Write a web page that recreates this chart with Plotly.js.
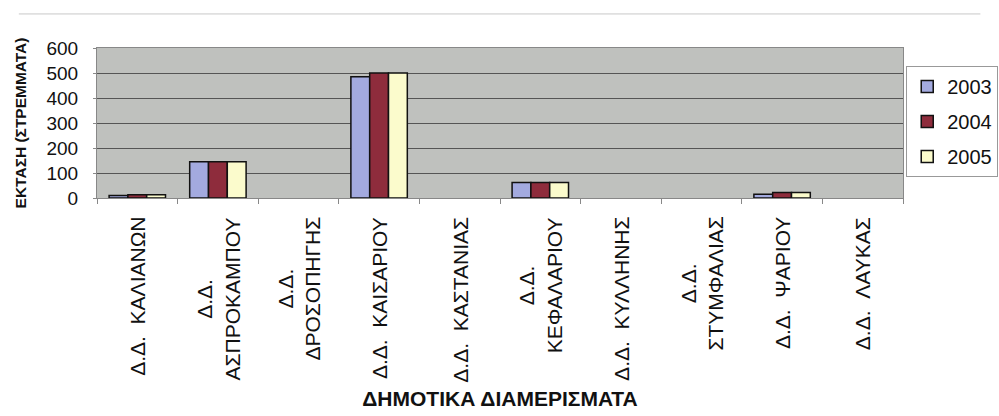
<!DOCTYPE html>
<html>
<head>
<meta charset="utf-8">
<script src="https://cdn.plot.ly/plotly-3.0.1.min.js"></script>
<style>html,body{margin:0;padding:0;background:#fff;}#chart{width:999px;height:416px;}</style>
</head>
<body>
<div id="chart"></div>
<script>
const categories = ["ΚΑΛΙΑΝΩΝ", "ΑΣΠΡΟΚΑΜΠΟΥ", "ΔΡΟΣΟΠΗΓΗΣ", "ΚΑΙΣΑΡΙΟΥ", "ΚΑΣΤΑΝΙΑΣ", "ΚΕΦΑΛΑΡΙΟΥ", "ΚΥΛΛΗΝΗΣ", "ΣΤΥΜΦΑΛΙΑΣ", "ΨΑΡΙΟΥ", "ΛΑΥΚΑΣ"];
const tickLabels = ["Δ.Δ.\u00a0\u00a0ΚΑΛΙΑΝΩΝ", "Δ.Δ.<br>ΑΣΠΡΟΚΑΜΠΟΥ", "Δ.Δ.<br>ΔΡΟΣΟΠΗΓΗΣ", "Δ.Δ.\u00a0\u00a0ΚΑΙΣΑΡΙΟΥ", "Δ.Δ.\u00a0\u00a0ΚΑΣΤΑΝΙΑΣ", "Δ.Δ.<br>ΚΕΦΑΛΑΡΙΟΥ", "Δ.Δ.\u00a0\u00a0ΚΥΛΛΗΝΗΣ", "Δ.Δ.<br>ΣΤΥΜΦΑΛΙΑΣ", "Δ.Δ.\u00a0\u00a0ΨΑΡΙΟΥ", "Δ.Δ.\u00a0\u00a0ΛΑΥΚΑΣ"];
const years = ["2003", "2004", "2005"];
const v2003 = [10, 145, 0, 485, 0, 62, 0, 0, 15, 0];
const v2004 = [13, 145, 0, 500, 0, 62, 0, 0, 22, 0];
const v2005 = [13, 145, 0, 500, 0, 62, 0, 0, 22, 0];
const colors = ["#a3aadf", "#8e2c3c", "#fbfbcc"];

const series = [v2003, v2004, v2005];
const font = "Liberation Sans, Arial, sans-serif";
const traces = series.map((vals, i) => ({
  type: "bar",
  name: years[i],
  legendgroup: years[i],
  x: categories,
  y: vals,
  marker: {color: colors[i], line: {color: "#111", width: vals.map(v => v > 0 ? 1.5 : 0)}},
  hoverinfo: "y"
}));

const labelAnnotations = categories.map((c, i) => ({
  x: c, xref: "x", y: 0, yref: "paper",
  yanchor: "top", xanchor: "center", yshift: -17,
  text: tickLabels[i], textangle: -90, align: "center",
  showarrow: false,
  font: {family: font, size: 21, color: "#111"}
}));

const layout = {
  width: 999, height: 416,
  margin: {l: 97, r: 96, t: 48, b: 218, autoexpand: false},
  paper_bgcolor: "#ffffff",
  plot_bgcolor: "#bfc1be",
  barmode: "group",
  bargap: 0.3,
  bargroupgap: 0,
  font: {family: font, color: "#111", size: 19},
  showlegend: true,
  legend: {
    x: 1.004, xanchor: "left", y: 0.88, yanchor: "top",
    bgcolor: "#ffffff", bordercolor: "#999", borderwidth: 1,
    font: {family: font, size: 20, color: "#111"},
    tracegroupgap: 6, itemwidth: 30
  },
  xaxis: {
    type: "category",
    showticklabels: false,
    tickson: "boundaries",
    ticks: "outside", ticklen: 5, tickcolor: "#888",
    showline: true, linecolor: "#888", linewidth: 1, mirror: true,
    showgrid: false,
    title: {text: "ΔΗΜΟΤΙΚΑ ΔΙΑΜΕΡΙΣΜΑΤΑ", font: {family: font, size: 21, color: "#111", weight: "bold"}, standoff: 193}
  },
  yaxis: {
    range: [0, 600],
    tickvals: [0, 100, 200, 300, 400, 500, 600],
    ticks: "outside", ticklen: 3, tickcolor: "#888",
    ticklabelstandoff: 11,
    tickfont: {family: font, size: 19, color: "#111"},
    showgrid: true, gridcolor: "#555", gridwidth: 1,
    showline: true, linecolor: "#888", linewidth: 1, mirror: true,
    zeroline: false,
    title: {text: "ΕΚΤΑΣΗ (ΣΤΡΕΜΜΑΤΑ)", font: {family: font, size: 15.5, color: "#111", weight: "bold"}, standoff: 16}
  },
  annotations: labelAnnotations,
  shapes: [{type: "line", xref: "paper", yref: "paper", x0: -0.097, x1: 1.096, y0: 1.227, y1: 1.227, line: {color: "#c8c8c8", width: 1}}]
};

Plotly.newPlot("chart", traces, layout, {displayModeBar: false, staticPlot: true});
</script>
</body>
</html>
